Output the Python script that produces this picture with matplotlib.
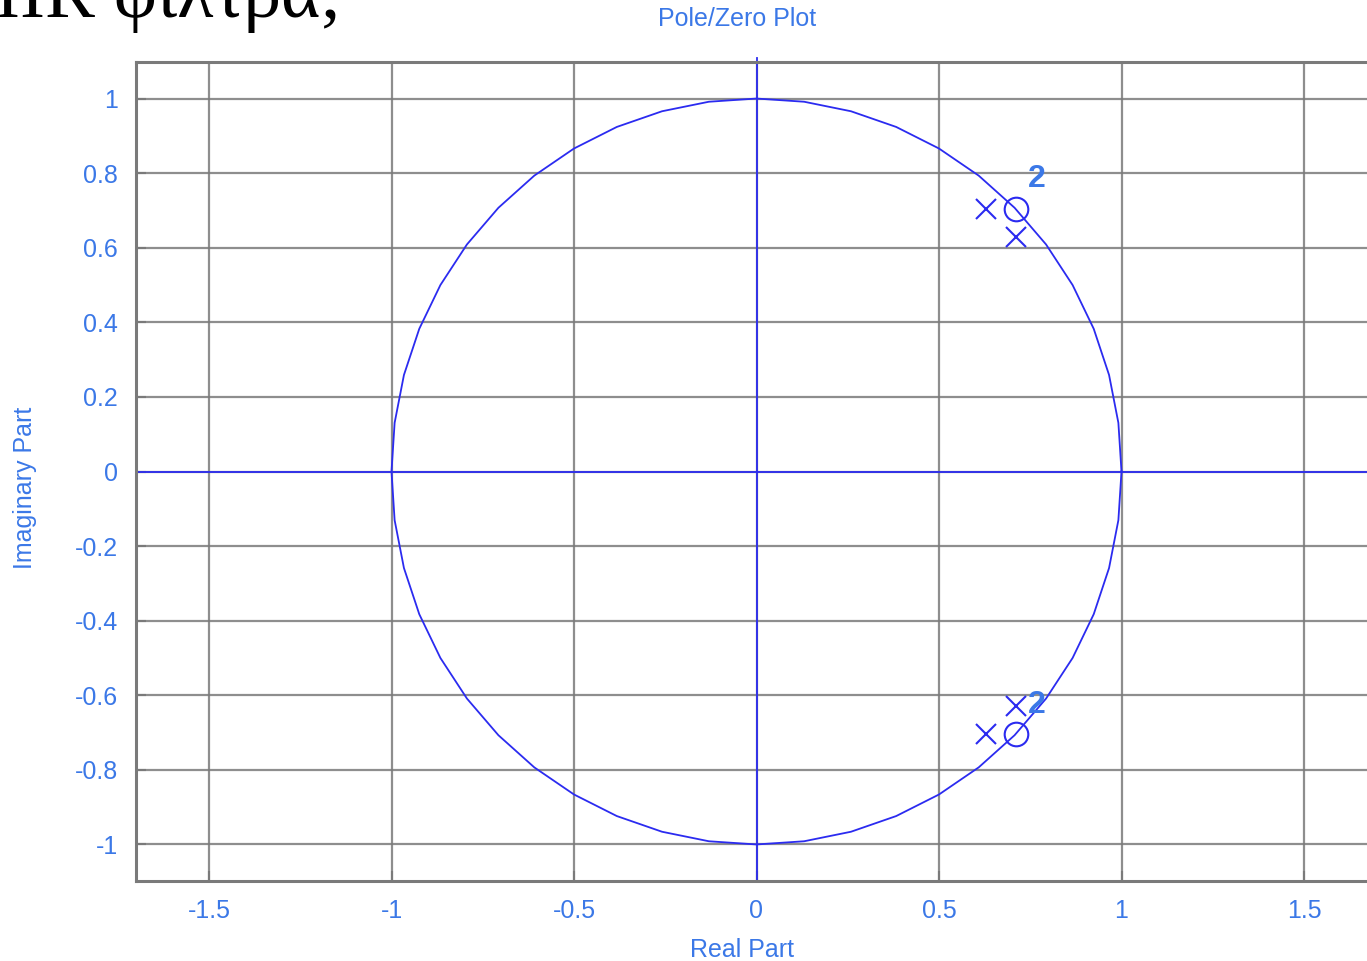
import numpy as np
import matplotlib.pyplot as plt

# zeros (double) and poles of the filter
zeros_re = [0.71, 0.71]
zeros_im = [0.705, -0.705]
zero_mult = ["2", "2"]
poles_re = [0.63, 0.71, 0.63, 0.71]
poles_im = [0.705, 0.63, -0.705, -0.63]

xticks = [-1.5, -1, -0.5, 0, 0.5, 1, 1.5]
xtick_labels = ["-1.5", "-1", "-0.5", "0", "0.5", "1", "1.5"]
yticks = [-1, -0.8, -0.6, -0.4, -0.2, 0, 0.2, 0.4, 0.6, 0.8, 1]
ytick_labels = ["-1", "-0.8", "-0.6", "-0.4", "-0.2", "0", "0.2", "0.4", "0.6", "0.8", "1"]

line_blue = "#2b2bf0"
text_blue = "#3b78e7"
grey = "#7a7a7a"

plt.rcParams['font.family'] = ['Liberation Sans', 'DejaVu Sans']

fig = plt.figure(figsize=(13.67, 9.61), dpi=100)
# axes run past the right edge of the figure
ax = fig.add_axes([136 / 1367, 80 / 961, 1241 / 1367, 819 / 961])
ax.set_xlim(-1.7, 1.7)
ax.set_ylim(-1.098, 1.098)

ax.set_xticks(xticks)
ax.set_xticklabels(xtick_labels)
ax.set_yticks(yticks)
ax.set_yticklabels(ytick_labels)
ax.tick_params(direction="in", length=7, width=1.5, color=grey,
               labelcolor=text_blue, labelsize=18, pad=13)
ax.grid(True, color=grey, linewidth=1.6, alpha=0.85)
for s in ax.spines.values():
    s.set_color(grey)
    s.set_linewidth(2.2)

# unit circle and axes
t = np.linspace(0, 2 * np.pi, 49)
ax.plot(np.cos(t), np.sin(t), color=line_blue, lw=1.3)
ax.axhline(0, color=line_blue, lw=1.3)
ax.plot([0, 0], [-1.098, 1.11], color=line_blue, lw=1.3, clip_on=False)

ax.plot(zeros_re, zeros_im, "o", ms=17, mfc="none", mec=line_blue, mew=1.5)
ax.plot(poles_re, poles_im, "x", ms=14, mec=line_blue, mew=1.5)
for zr, zi, m in zip(zeros_re, zeros_im, zero_mult):
    ax.text(zr + 0.058, zi + 0.08, m, color=text_blue, fontsize=23,
            fontweight="bold", ha="center", va="center")

fig.text(737 / 1367, 1 - 19 / 961, "Pole/Zero Plot", color=text_blue,
         fontsize=18, ha="center", va="center")
fig.text(742 / 1367, 1 - 950 / 961, "Real Part", color=text_blue,
         fontsize=18, ha="center", va="center")
fig.text(25 / 1367, 1 - 488 / 961, "Imaginary Part", color=text_blue,
         fontsize=18, ha="center", va="center", rotation=90)

fig.text(-0.004, 1 - 17 / 961, "IIR φίλτρα;", family="Liberation Serif",
         fontsize=54, color="black", ha="left", va="baseline")

fig.savefig("out.png", dpi=100)
